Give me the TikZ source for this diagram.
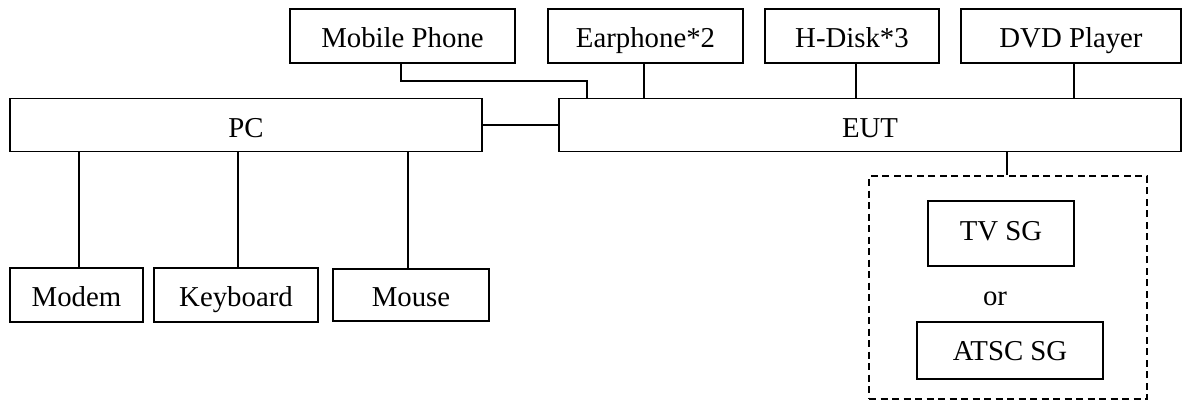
\documentclass[tikz,border=0pt]{standalone}
\usepackage{fontspec}
\setmainfont{Liberation Serif}
\begin{document}
\begin{tikzpicture}[x=1pt,y=1pt,
  box/.style={draw, line width=1.9pt, inner sep=0pt, align=center, text height=22pt, text depth=0pt, font=\fontsize{28.8}{34}\selectfont},
  conn/.style={line width=1.8pt},
  dbox/.style={draw, line width=1.8pt, dash pattern=on 7pt off 4.5pt, inner sep=0pt}]
\useasboundingbox (0,0) rectangle (1184,-400);
% top row
\node[box, minimum width=225pt, minimum height=54pt] (mobile) at (402.5,-36) {Mobile Phone};
\node[box, minimum width=195pt, minimum height=54pt] (ear) at (645.5,-36) {Earphone*2};
\node[box, minimum width=174pt, minimum height=54pt] (hdisk) at (852,-36) {H-Disk*3};
\node[box, minimum width=220pt, minimum height=54pt] (dvd) at (1071,-36) {DVD Player};
% middle row
\node[box, text height=24pt, minimum width=472pt, minimum height=53pt] (pc) at (246,-125) {PC};
\node[box, text height=24pt, minimum width=622pt, minimum height=53pt] (eut) at (870,-125) {EUT};
% bottom row
\node[box, minimum width=133pt, minimum height=54pt] (modem) at (76.5,-295) {Modem};
\node[box, minimum width=164pt, minimum height=54pt] (keyboard) at (236,-295) {Keyboard};
\node[box, minimum width=156pt, minimum height=52pt] (mouse) at (411,-295) {Mouse};
% signal generator group
\node[dbox, minimum width=278pt, minimum height=223pt] (sg) at (1008,-287.5) {};
\node[box, text height=13pt, minimum width=146pt, minimum height=65pt] (tvsg) at (1001,-233.5) {TV SG};
\node[font=\fontsize{28.8}{34}\selectfont, inner sep=0pt, anchor=base] (or) at (995,-305) {or};
\node[box, text height=20pt, minimum width=186pt, minimum height=57pt] (atsc) at (1010,-350.5) {ATSC SG};
% connectors
\coordinate (mj) at (0,-81);
\draw[conn] ([xshift=-1.5pt]mobile.south) -- ([xshift=-1.5pt]mobile.south |- mj) -| ([xshift=-283pt]eut.north);
\draw[conn] ([xshift=-1.5pt]ear.south) -- ([xshift=-1.5pt]ear.south |- eut.north);
\draw[conn] ([xshift=4pt]hdisk.south) -- ([xshift=4pt]hdisk.south |- eut.north);
\draw[conn] ([xshift=3pt]dvd.south) -- ([xshift=3pt]dvd.south |- eut.north);
\draw[conn] (pc.east) -- (eut.west);
\draw[conn] ([xshift=2.5pt]modem.north) -- ([xshift=2.5pt]modem.north |- pc.south);
\draw[conn] ([xshift=2pt]keyboard.north) -- ([xshift=2pt]keyboard.north |- pc.south);
\draw[conn] ([xshift=-3pt]mouse.north) -- ([xshift=-3pt]mouse.north |- pc.south);
\draw[conn] ([xshift=-1pt]sg.north) -- ([xshift=-1pt]sg.north |- eut.south);
\end{tikzpicture}
\end{document}
